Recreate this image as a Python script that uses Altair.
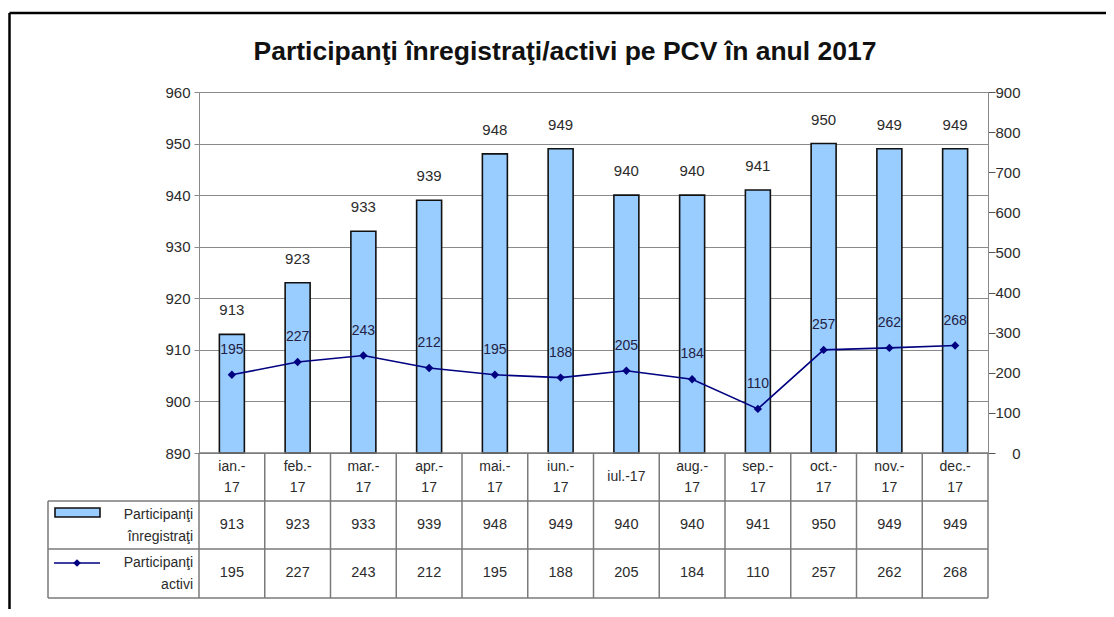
import altair as alt
import pandas as pd

# ---- data ----
months = ["ian", "feb", "mar", "apr", "mai", "iun", "iul", "aug", "sep", "oct", "nov", "dec"]
cat_top = ["ian.-", "feb.-", "mar.-", "apr.-", "mai.-", "iun.-", "", "aug.-", "sep.-", "oct.-", "nov.-", "dec.-"]
cat_bottom = ["17", "17", "17", "17", "17", "17", "", "17", "17", "17", "17", "17"]
cat_single = ["", "", "", "", "", "", "iul.-17", "", "", "", "", ""]
inregistrati = [913, 923, 933, 939, 948, 949, 940, 940, 941, 950, 949, 949]
activi = [195, 227, 243, 212, 195, 188, 205, 184, 110, 257, 262, 268]
left_ticks = [890, 900, 910, 920, 930, 940, 950, 960]
right_ticks = [0, 100, 200, 300, 400, 500, 600, 700, 800, 900]
series_names = ["Participanţi\nînregistraţi", "Participanţi\nactivi"]
title_text = "Participanţi înregistraţi/activi pe PCV în anul 2017"

df = pd.DataFrame({"m": months, "t1": cat_top, "t2": cat_bottom, "t0": cat_single,
                   "reg": inregistrati, "act": activi})
one = pd.DataFrame({"k": [0]})

# ---- geometry ----
W, H = 789, 361
STEP = W / len(months)
FONT = "Liberation Sans"
TXT = "#2b2b2b"
GRID = "#8a8a8a"
TLINE = "#7a7a7a"

xs = alt.Scale(domain=months, paddingInner=0.62, paddingOuter=0.31)
X = alt.X("m:N", scale=xs, axis=None)

yL = alt.Y("reg:Q", scale=alt.Scale(domain=[890, 960], nice=False, zero=False),
           axis=alt.Axis(values=left_ticks, grid=True, gridColor=GRID, gridWidth=1,
                         tickSize=5, tickColor=GRID, domainColor=GRID, labelPadding=4,
                         labelFontSize=15, labelColor=TXT, labelFont=FONT, title=None))
yR = alt.Y("act:Q", scale=alt.Scale(domain=[0, 900], nice=False, zero=True),
           axis=alt.Axis(orient="right", values=right_ticks, grid=False, tickSize=7,
                         tickColor="#555", domainColor=GRID, labelPadding=25, labelAlign="right",
                         labelFontSize=15, labelColor=TXT, labelFont=FONT, title=None))

base = alt.Chart(df)

bars = base.mark_bar(color="#99CCFF", stroke="#111111", strokeWidth=1.6).encode(
    x=X, y=yL, y2=alt.datum(890))
bar_lbl = base.mark_text(dy=-24, fontSize=15, font=FONT, color=TXT).encode(
    x=X, y=yL, text="reg:Q")
left_layer = alt.layer(bars, bar_lbl)

line = base.mark_line(color="#000080", strokeWidth=1.6).encode(x=X, y=yR)
pts = base.mark_point(shape="diamond", filled=True, size=70, color="#000080", opacity=1).encode(x=X, y=yR)
line_lbl = base.mark_text(dy=-25, fontSize=14, font=FONT, color="#222244").encode(
    x=X, y=yR, text="act:Q")
right_layer = alt.layer(line, pts, line_lbl)


# ---- data table below the plot ----
def row_text(field, yy, size=14.5):
    return base.mark_text(fontSize=size, font=FONT, color=TXT, baseline="middle").encode(
        x=X, y=alt.value(yy), text=f"{field}:N")


cat1 = row_text("t1", H + 14, 14)
cat2 = row_text("t2", H + 35, 14)
cat0 = row_text("t0", H + 24, 14)
reg_txt = row_text("reg", H + 72)
act_txt = row_text("act", H + 120)
col_rules = base.mark_rule(color=TLINE, strokeWidth=1.5, xOffset=-STEP / 2).encode(
    x=X, y=alt.value(H), y2=alt.value(H + 145))


def fixed_rule(x1, x2, y1, y2, color=TLINE, w=1.5):
    return alt.Chart(one).mark_rule(color=color, strokeWidth=w).encode(
        x=alt.value(x1), x2=alt.value(x2), y=alt.value(y1), y2=alt.value(y2))


table_rules = [
    fixed_rule(0, W, H, H),
    fixed_rule(W, W, H, H + 145),
    fixed_rule(-151, W, H + 48, H + 48),
    fixed_rule(-151, W, H + 96, H + 96),
    fixed_rule(-151, W, H + 145, H + 145),
    fixed_rule(-151, -151, H + 48, H + 145),
    # outer frame (left and top edges)
    fixed_rule(-189.5, -189.5, -79, H + 160, color="#000000", w=2.5),
    fixed_rule(-189.5, W + 125, -79, -79, color="#000000", w=2.5),
]

leg = pd.DataFrame({"name": series_names})
leg_txt1 = alt.Chart(leg.iloc[[0]]).mark_text(fontSize=14, font=FONT, color=TXT, align="right",
                                              lineBreak="\n", lineHeight=22, baseline="middle").encode(
    x=alt.value(-6), y=alt.value(H + 62), text="name:N")
leg_txt2 = alt.Chart(leg.iloc[[1]]).mark_text(fontSize=14, font=FONT, color=TXT, align="right",
                                              lineBreak="\n", lineHeight=22, baseline="middle").encode(
    x=alt.value(-6), y=alt.value(H + 110), text="name:N")
leg_rect = alt.Chart(one).mark_rect(color="#99CCFF", stroke="#111111", strokeWidth=1.6).encode(
    x=alt.value(-144), x2=alt.value(-99), y=alt.value(H + 55), y2=alt.value(H + 64))
leg_line = alt.Chart(one).mark_rule(color="#000080", strokeWidth=1.6).encode(
    x=alt.value(-145), x2=alt.value(-99), y=alt.value(H + 110))
leg_pt = alt.Chart(one).mark_point(shape="diamond", filled=True, size=60, color="#000080",
                                   opacity=1).encode(x=alt.value(-122), y=alt.value(H + 110))

title = alt.Chart(one).mark_text(text=title_text, fontSize=26.5, fontWeight="bold", font=FONT,
                                 color="#111111", align="center", baseline="middle").encode(
    x=alt.value(366), y=alt.value(-40))

chart = alt.layer(
    left_layer, right_layer, cat1, cat2, cat0, reg_txt, act_txt, col_rules, *table_rules,
    leg_txt1, leg_txt2, leg_rect, leg_line, leg_pt, title
).resolve_scale(y="independent").properties(
    width=W, height=H,
    autosize=alt.AutoSizeParams(type="none"),
    padding={"left": 191, "top": 84, "right": 118, "bottom": 156},
).configure_view(stroke=None).configure(background="white")

chart.save("out.html", embed_options={"renderer": "svg", "actions": False})
